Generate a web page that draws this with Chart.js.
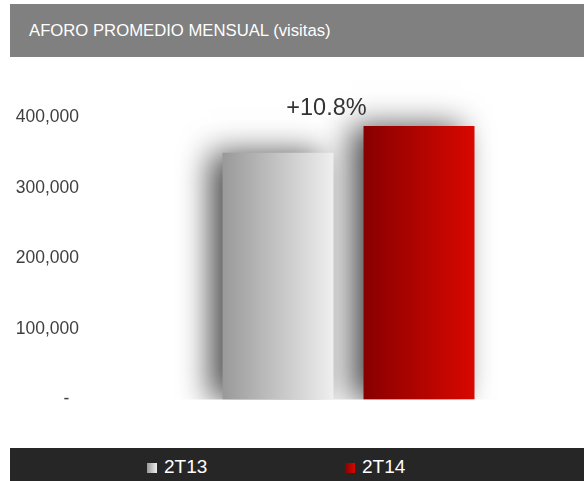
<!DOCTYPE html>
<html>
<head>
<meta charset="utf-8">
<script src="https://cdn.jsdelivr.net/npm/chart.js@4.4.0/dist/chart.umd.min.js"></script>
<style>
  html, body { margin: 0; padding: 0; background: #ffffff; }
  body { width: 584px; height: 481px; position: relative; overflow: hidden; font-family: "Liberation Sans", Arial, sans-serif; }
  #title { position: absolute; left: 10px; top: 4px; width: 574px; height: 53px; background: #808080; color: #ffffff; font-size: 16.7px; line-height: 53px; }
  #title span { position: absolute; left: 19px; top: 0; white-space: nowrap; }
  #chartWrap { position: absolute; left: 0; top: 0; width: 584px; height: 481px; }
  #legend { position: absolute; left: 10px; top: 448px; width: 574px; height: 33px; background: #262626; color: #ffffff; font-size: 19px; }
  .item { position: absolute; top: 0; height: 33px; line-height: 37px; white-space: nowrap; }
  .box { display: inline-block; width: 10px; height: 10px; margin-right: 7px; vertical-align: baseline; }
</style>
</head>
<body>
<div id="chartWrap"><canvas id="c" width="584" height="481"></canvas></div>
<div id="title"><span>AFORO PROMEDIO MENSUAL (visitas)</span></div>
<div id="legend"></div>
<script>
// ---- data ----
const categories = [''];
const seriesNames = ['2T13', '2T14'];
const series2T13 = [350000];
const series2T14 = [387800];
const yTickValues = [0, 100000, 200000, 300000, 400000];
const yTickLabels = ['-', '100,000', '200,000', '300,000', '400,000'];
const growthLabel = '+10.8%';

// ---- styles ----
const gradStops = [['#999999', '#efefef'], ['#880000', '#d80800']];
const catPct = 1.0;
const barPct = 0.787;

function barGradient(c) {
  const chart = c.chart;
  const stops = gradStops[c.datasetIndex];
  const xs = chart.scales && chart.scales.x;
  if (!chart.chartArea || !xs) return stops[0];
  const n = chart.data.datasets.length;
  const catW = xs.width / chart.data.labels.length;
  const slot = catW * catPct / n;
  const center = xs.getPixelForValue(c.dataIndex) + (c.datasetIndex - (n - 1) / 2) * slot;
  const w = slot * barPct;
  const g = chart.ctx.createLinearGradient(center - w / 2, 0, center + w / 2, 0);
  g.addColorStop(0, stops[0]);
  g.addColorStop(1, stops[1]);
  return g;
}

const shadowPlugin = {
  id: 'barShadow',
  beforeDatasetDraw(chart) {
    const ctx = chart.ctx;
    ctx.save();
    ctx.shadowColor = 'rgba(0,0,0,0.7)';
    ctx.shadowBlur = 30;
    ctx.shadowOffsetX = -13;
    ctx.shadowOffsetY = 0;
  },
  afterDatasetDraw(chart) {
    chart.ctx.restore();
  }
};

const growthPlugin = {
  id: 'growth',
  afterDatasetsDraw(chart) {
    const ctx = chart.ctx;
    const xs = chart.scales.x;
    const meta = chart.getDatasetMeta(1);
    const bar = meta.data[0];
    if (!bar) return;
    ctx.save();
    ctx.font = '23.5px "Liberation Sans", Arial, sans-serif';
    ctx.fillStyle = '#333333';
    ctx.textAlign = 'center';
    ctx.textBaseline = 'middle';
    ctx.fillText(growthLabel, xs.getPixelForValue(0) - 22, bar.y - 18);
    ctx.restore();
  }
};

const barClip = { left: false, top: false, right: false, bottom: 0 };

const chart = new Chart(document.getElementById('c'), {
  type: 'bar',
  data: {
    labels: categories,
    datasets: [
      { label: seriesNames[0], data: series2T13, backgroundColor: barGradient, borderWidth: 0, categoryPercentage: catPct, barPercentage: barPct, clip: barClip },
      { label: seriesNames[1], data: series2T14, backgroundColor: barGradient, borderWidth: 0, categoryPercentage: catPct, barPercentage: barPct, clip: barClip }
    ]
  },
  options: {
    responsive: false,
    animation: false,
    layout: { padding: { left: 0, right: 94.5, top: 117.5, bottom: 81.5 } },
    plugins: { legend: { display: false }, tooltip: { enabled: false }, title: { display: false } },
    scales: {
      x: { display: false },
      y: {
        min: 0, max: 400000,
        afterFit(scale) { scale.width = 207.5; scale.paddingTop = 10; scale.paddingBottom = 10; },
        afterBuildTicks(scale) { scale.ticks = yTickValues.map(v => ({ value: v })); },
        grid: { display: false, drawTicks: false },
        border: { display: false },
        ticks: {
          padding: 128.5,
          color: '#404040',
          font: { family: '"Liberation Sans", Arial, sans-serif', size: 17.5 },
          callback(value, index) {
            const lab = yTickLabels[index];
            return lab === '-' ? '-  ' : lab;
          }
        }
      }
    }
  },
  plugins: [shadowPlugin, growthPlugin]
});

// ---- legend (HTML) ----
const legendLeft = [137, 335];
const legendBoxGrad = ['linear-gradient(to right, #999999, #eeeeee)', 'linear-gradient(to right, #880000, #d80800)'];
const legendEl = document.getElementById('legend');
seriesNames.forEach((name, i) => {
  const it = document.createElement('div');
  it.className = 'item';
  it.style.left = legendLeft[i] + 'px';
  const b = document.createElement('span');
  b.className = 'box';
  b.style.background = legendBoxGrad[i];
  it.appendChild(b);
  it.appendChild(document.createTextNode(name));
  legendEl.appendChild(it);
});
</script>
</body>
</html>
